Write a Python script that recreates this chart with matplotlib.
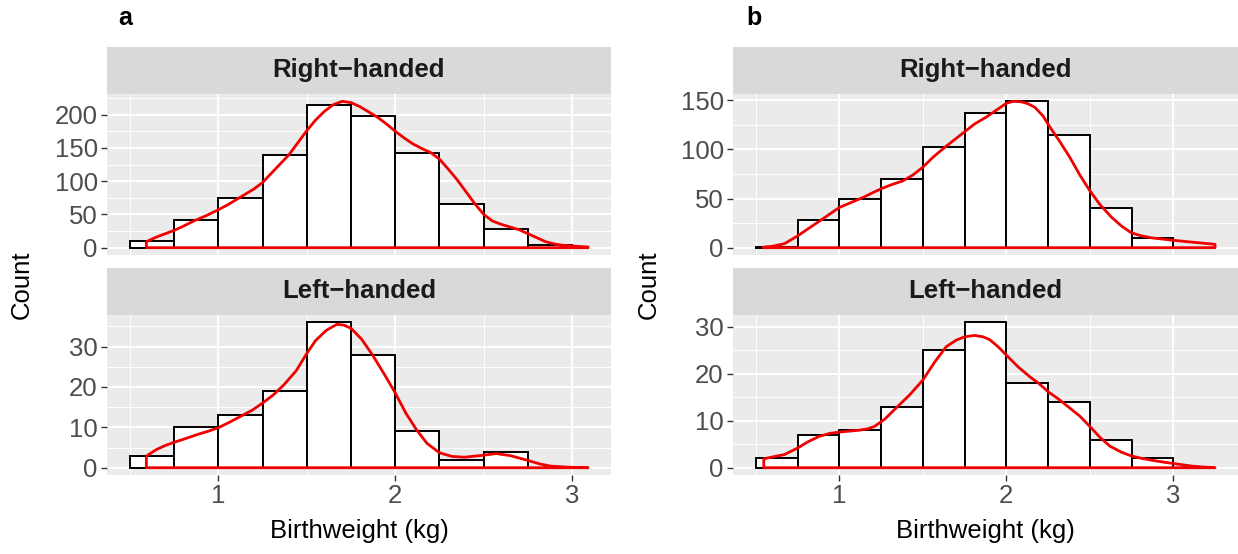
import numpy as np
import matplotlib.pyplot as plt
from matplotlib.ticker import MultipleLocator

plt.rcParams['font.family'] = ['Liberation Sans', 'DejaVu Sans']

W, H = 1238, 554

# histogram bins (kg), binwidth 0.25
bin_edges = [0.5, 0.75, 1.0, 1.25, 1.5, 1.75, 2.0, 2.25, 2.5, 2.75, 3.0]
facet_names = ["Right\u2212handed", "Left\u2212handed"]

# panel a
a_right_counts = [10, 42, 75, 140, 214, 198, 142, 65, 28, 4]
a_left_counts = [3, 10, 13, 19, 36, 28, 9, 2, 4, 0]
a_right_dens_x = [0.593, 0.65, 0.7, 0.75, 0.8, 0.86, 0.93, 1.0, 1.05, 1.1, 1.15, 1.2, 1.25,
                  1.3, 1.35, 1.4, 1.45, 1.5, 1.55, 1.6, 1.65, 1.7, 1.75, 1.8, 1.85, 1.9,
                  1.95, 2.0, 2.05, 2.1, 2.15, 2.2, 2.25, 2.3, 2.35, 2.4, 2.45, 2.5, 2.55,
                  2.6, 2.65, 2.7, 2.75, 2.8, 2.85, 2.9, 2.95, 3.0, 3.09]
a_right_dens_y = [9, 16, 21, 26, 32, 40, 48, 57, 64, 72, 80, 88, 98,
                  112, 126, 140, 158, 176, 192, 205, 215, 220, 218, 212, 204, 196,
                  186, 175, 165, 156, 149, 143, 133, 118, 102, 84, 66, 50, 40,
                  35, 31, 27, 21, 15, 9, 5.5, 3.5, 2.5, 1]
a_left_dens_x = [0.593, 0.65, 0.7, 0.75, 0.82, 0.88, 0.94, 1.0, 1.06, 1.125, 1.19, 1.25,
                 1.31, 1.37, 1.44, 1.5, 1.55, 1.61, 1.67, 1.71, 1.75, 1.81, 1.87, 1.94,
                 2.0, 2.06, 2.12, 2.18, 2.25, 2.32, 2.39, 2.48, 2.57, 2.65, 2.75, 2.82,
                 2.88, 2.95, 3.0, 3.09]
a_left_dens_y = [2.9, 4.5, 5.5, 6.3, 7.3, 8.2, 9.0, 9.9, 11.2, 12.7, 14.2, 16,
                 18, 20.5, 24, 28.3, 31.5, 34, 35.5, 35.3, 34.5, 31.8, 28, 23,
                 18.5, 13.5, 9.4, 6.0, 3.7, 2.8, 2.6, 3.0, 3.5, 3.0, 1.8, 0.9,
                 0.4, 0.2, 0.1, 0]

# panel b
b_right_counts = [1, 28, 50, 70, 102, 137, 149, 115, 40, 10]
b_left_counts = [2, 7, 8, 13, 25, 31, 18, 14, 6, 2]
b_right_dens_x = [0.543, 0.6, 0.67, 0.71, 0.75, 0.81, 0.88, 0.94, 1.0, 1.07, 1.14, 1.2,
                  1.25, 1.31, 1.38, 1.44, 1.5, 1.56, 1.63, 1.69, 1.75, 1.81, 1.88, 1.94,
                  2.0, 2.04, 2.09, 2.13, 2.17, 2.22, 2.26, 2.32, 2.38, 2.44, 2.5, 2.56,
                  2.63, 2.69, 2.75, 2.81, 2.87, 2.94, 3.0, 3.06, 3.12, 3.19, 3.25]
b_right_dens_y = [0.5, 1.5, 4, 8, 12, 19, 27, 34, 41, 46, 51, 56,
                  60, 64, 68, 74, 82, 92, 102, 110, 118, 126, 133, 140,
                  147, 149, 148.5, 146.5, 143, 134, 123, 108, 92, 74, 58, 44,
                  31, 22, 15, 12, 10, 8.7, 7.5, 6.5, 5.5, 4.4, 3.4]
b_left_dens_x = [0.547, 0.6, 0.67, 0.75, 0.81, 0.88, 0.94, 1.0, 1.06, 1.12, 1.17, 1.21,
                 1.27, 1.33, 1.42, 1.5, 1.57, 1.64, 1.7, 1.75, 1.81, 1.86, 1.9, 1.95,
                 2.0, 2.07, 2.14, 2.2, 2.25, 2.31, 2.37, 2.44, 2.5, 2.56, 2.62, 2.69,
                 2.75, 2.81, 2.87, 2.94, 3.0, 3.06, 3.11, 3.18, 3.25]
b_left_dens_y = [1.9, 2.3, 2.8, 4.2, 5.5, 6.7, 7.3, 7.6, 7.8, 8.0, 8.3, 8.8,
                 10.3, 12.4, 15.5, 18.7, 22.5, 25.8, 27.2, 27.9, 28.2, 27.9, 27.3, 25.8,
                 24, 21.5, 19.4, 17.8, 16.2, 14.7, 13, 11, 8.8, 6.5, 4.6, 3.3,
                 2.5, 2.0, 1.6, 1.2, 0.9, 0.6, 0.35, 0.15, 0]


def px_rect(x0, y0, x1, y1):
    # pixel box (top-left origin) -> figure fraction rect
    return [x0 / W, 1 - y1 / H, (x1 - x0) / W, (y1 - y0) / H]


def strip(fig, x0, y0, x1, y1, label):
    ax = fig.add_axes(px_rect(x0, y0, x1, y1))
    ax.set_facecolor("#D9D9D9")
    ax.set_xticks([])
    ax.set_yticks([])
    for s in ax.spines.values():
        s.set_visible(False)
    ax.text(0.5, 0.52, label, transform=ax.transAxes, ha="center", va="center",
            fontsize=18.5, fontweight="bold", color="#1A1A1A")


def facet(fig, x0, y0, x1, y1, counts, dens_x, dens_y, xlim, ystep, show_x):
    ax = fig.add_axes(px_rect(x0, y0, x1, y1))
    ax.set_facecolor("#EBEBEB")
    for s in ax.spines.values():
        s.set_visible(False)
    ax.set_axisbelow(True)
    ax.grid(which="major", color="white", linewidth=1.4)
    ax.grid(which="minor", color="white", linewidth=0.7)

    widths = np.diff(bin_edges)
    ax.bar(bin_edges[:-1], counts, width=widths, align="edge",
           facecolor="white", edgecolor="black", linewidth=1.4, zorder=2)

    # density outline as closed polygon (like geom_density with no fill)
    px = [dens_x[0]] + list(dens_x) + [dens_x[-1]]
    py = [0] + list(dens_y) + [0]
    ax.fill(px, py, fill=False, edgecolor="#F00000", linewidth=2.0, zorder=3,
            joinstyle="round")

    ymax = max(max(counts), max(dens_y))
    ax.set_ylim(-0.05 * ymax, 1.05 * ymax)
    ax.set_xlim(*xlim)
    ax.xaxis.set_major_locator(MultipleLocator(1))
    ax.xaxis.set_minor_locator(MultipleLocator(0.5))
    ax.yaxis.set_major_locator(MultipleLocator(ystep))
    ax.yaxis.set_minor_locator(MultipleLocator(ystep / 2))
    ax.tick_params(which="major", length=4.2, width=1.0, color="#333333",
                   labelsize=18.5, labelcolor="#4D4D4D", pad=2.5)
    ax.tick_params(which="minor", length=0)
    if not show_x:
        ax.tick_params(axis="x", which="major", length=0, labelbottom=False)
    return ax


fig = plt.figure(figsize=(W / 100, H / 100), dpi=100)

panels = [
    (107, 611, a_right_counts, a_right_dens_x, a_right_dens_y, a_left_counts, a_left_dens_x, a_left_dens_y, 50, "a", 118, 22),
    (733, 1238, b_right_counts, b_right_dens_x, b_right_dens_y, b_left_counts, b_left_dens_x, b_left_dens_y, 50, "b", 746, 649),
]

for (x0, x1, rc, rdx, rdy, lc, ldx, ldy, rstep, tag, tag_x, count_x) in panels:
    lo = min(bin_edges[0], rdx[0], ldx[0])
    hi = max(bin_edges[-1], rdx[-1], ldx[-1])
    pad = 0.05 * (hi - lo)
    xlim = (lo - pad, hi + pad)

    strip(fig, x0, 47, x1, 94, facet_names[0])
    facet(fig, x0, 94, x1, 255, rc, rdx, rdy, xlim, rstep, False)
    strip(fig, x0, 268, x1, 315, facet_names[1])
    facet(fig, x0, 315, x1, 475, lc, ldx, ldy, xlim, 10, True)

    fig.text(tag_x / W, 1 - 25 / H, tag, fontsize=18, fontweight="bold",
             ha="left", va="baseline", color="black")
    fig.text(count_x / W, 1 - 285 / H, "Count", fontsize=18.5, rotation=90,
             ha="center", va="center", color="black")
    fig.text((x0 + x1) / 2 / W, 1 - 531 / H, "Birthweight (kg)", fontsize=18.5,
             ha="center", va="center", color="black")

fig.savefig("out.png", dpi=100)
